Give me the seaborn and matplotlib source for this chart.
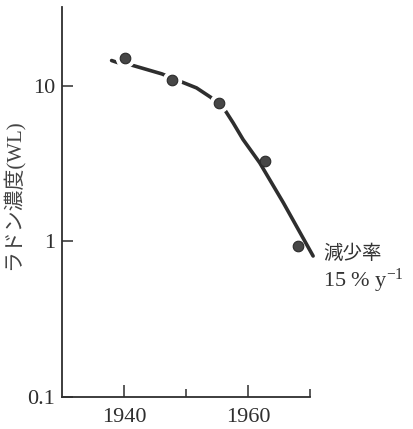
import matplotlib
matplotlib.use("Agg")
import matplotlib.pyplot as plt
import seaborn as sns
import pandas as pd

# Measured radon concentration (working level) by year
obs_years = [1940.2, 1947.7, 1955.3, 1962.8, 1968.1]
obs_wl = [15.1, 10.8, 7.7, 3.3, 0.94]

# Smoothed trend curve through the measurements
trend_years = [1938.0, 1938.9, 1941.1, 1946.1, 1949.2, 1951.7, 1954.0,
               1956.3, 1957.6, 1959.2, 1961.9, 1965.7, 1970.5]
trend_wl = [14.5, 14.1, 13.6, 11.9, 10.6, 9.67, 8.41, 6.95, 5.77, 4.51,
            3.19, 1.77, 0.805]

x_major = [1940, 1960]
x_minor = [1950, 1970]
y_ticks = [0.1, 1, 10]
y_ticklabels = ["0.1", "1", "10"]

sns.set_theme(style="white")
plt.rcParams["font.family"] = ["Liberation Serif", "Noto Sans CJK JP"]
plt.rcParams["mathtext.fontset"] = "custom"
plt.rcParams["mathtext.rm"] = "Liberation Serif"
plt.rcParams["mathtext.it"] = "Liberation Serif"

ink = "#2e2e2e"
fig = plt.figure(figsize=(4.13, 4.29), dpi=100)
fig.patch.set_facecolor("white")
ax = fig.add_axes([62 / 413, 32 / 429, 248 / 413, 390 / 429])

trend = pd.DataFrame({"year": trend_years, "wl": trend_wl})
obs = pd.DataFrame({"year": obs_years, "wl": obs_wl})

sns.lineplot(data=trend, x="year", y="wl", ax=ax, color=ink, linewidth=2.6,
             clip_on=False, zorder=2)
# white halos open the curve around the upper measurements
ax.plot(obs["year"][:3], obs["wl"][:3], linestyle="none", marker="o",
        markersize=13, color="white", zorder=3, clip_on=False)
sns.scatterplot(data=obs, x="year", y="wl", ax=ax, s=58, color="#464646",
                edgecolor="#2a2a2a", linewidth=0.8, zorder=4, clip_on=False)

ax.set_yscale("log")
ax.set_xlim(1930, 1970)
ax.set_ylim(0.1, 32)

ax.set_xticks(x_major)
ax.set_xticklabels([str(v) for v in x_major])
ax.set_xticks(x_minor, minor=True)
ax.set_yticks(y_ticks)
ax.set_yticklabels(y_ticklabels)
ax.yaxis.set_minor_locator(matplotlib.ticker.NullLocator())

ax.tick_params(axis="x", which="major", direction="in", length=8.5, width=1.1,
               color=ink, labelsize=16, labelcolor=ink, pad=8, bottom=True)
ax.tick_params(axis="x", which="minor", direction="in", length=6, width=1.1,
               color=ink, bottom=True)
ax.tick_params(axis="y", which="major", direction="in", length=8, width=1.1,
               color=ink, labelsize=16, labelcolor=ink, pad=5, left=True)

for side in ("top", "right"):
    ax.spines[side].set_visible(False)
for side in ("left", "bottom"):
    ax.spines[side].set_color(ink)
    ax.spines[side].set_linewidth(1.3)

ax.set_xlabel("")
ax.set_ylabel("ラドン濃度(WL)", fontsize=15, color="#444444")
ax.yaxis.set_label_coords(-0.15, 0.518)

ax.text(1.052, 0.369, "減少率", transform=ax.transAxes, fontsize=14,
        color="#333333", ha="left", va="center",
        family=["Noto Sans CJK JP", "Liberation Serif"])
ax.text(1.052, 0.297, "15 % y$^{-1}$", transform=ax.transAxes, fontsize=16,
        color="#333333", ha="left", va="center")

fig.savefig("out.png", dpi=100, facecolor="white")
